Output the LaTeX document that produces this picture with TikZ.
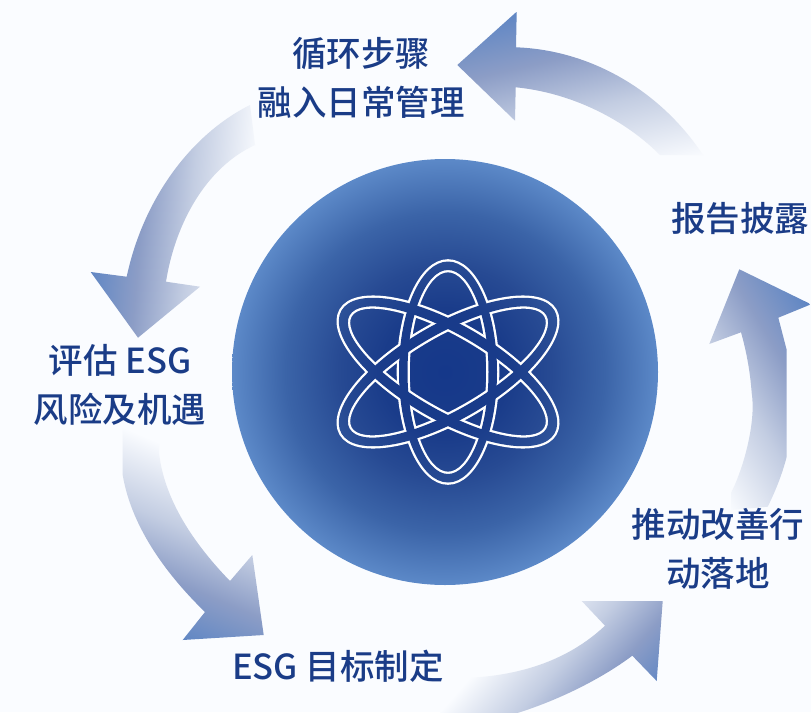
\documentclass[tikz,border=0pt]{standalone}
\usepackage{fontspec}
\setmainfont{Noto Sans CJK SC Medium}
\definecolor{pagebg}{HTML}{FAFCFF}
\definecolor{labelblue}{HTML}{1A3C87}
\definecolor{arrA}{HTML}{C3CDE2}
\definecolor{arrB}{HTML}{8C9DC6}
\definecolor{arrC}{HTML}{5F86C4}
\definecolor{discA}{HTML}{15388A}
\definecolor{discB}{HTML}{1A3C8A}
\definecolor{discC}{HTML}{274A93}
\definecolor{discD}{HTML}{3B64A8}
\definecolor{discE}{HTML}{5C89C8}
\pgfdeclarehorizontalshading{arrowgrad}{100bp}{color(0bp)=(pagebg); color(25bp)=(pagebg); color(45bp)=(arrA); color(60bp)=(arrB); color(75bp)=(arrC); color(100bp)=(arrC)}
\pgfdeclareradialshading{discgrad}{\pgfpoint{0bp}{0bp}}{color(0bp)=(discA); color(7.5bp)=(discB); color(12.5bp)=(discC); color(18.75bp)=(discD); color(25bp)=(discE); color(50bp)=(discE)}
\tikzset{
  lbl/.style={text=labelblue,font=\fontsize{34.5}{49}\selectfont,align=center,inner sep=0pt},
  atomline/.style={draw=white,line width=4.6pt},
}
% #1 path, #2 start of gradient, #3 direction (screen degrees), #4 length
\newcommand{\gradarrow}[4]{%
  \begin{scope}
    \clip #1;
    \begin{scope}[transform canvas={shift={#2},rotate=#3}]
      \shade[shading=arrowgrad] (0,-900) rectangle (#4,900);
    \end{scope}
  \end{scope}}
\newcommand{\discfill}{\shade[shading=discgrad] (445,372) circle (213);}
\begin{document}
\begin{tikzpicture}[x=1pt,y=-1pt]
\useasboundingbox (0,0) rectangle (811,712);
\clip (0,0) rectangle (811,712);
\fill[pagebg] (0,0) rectangle (811,712);

% arrows
\gradarrow{(457.3,65) -- (516.7,11.7) -- (516,47.3) .. controls (590,50) and (660,90) .. (703,155) -- (660,155) .. controls (620,115) and (565,92) .. (515.7,87.3) -- (515,120.7) -- cycle}{(620,176)}{103}{183}
\gradarrow{(138,337.7) -- (90.7,272) -- (126.7,276.7) .. controls (143,200) and (190,135) .. (250,105) -- (255,145) .. controls (205,168) and (175,225) .. (166,281.7) -- (200,286.7) -- cycle}{(262,130)}{175}{160}
\gradarrow{(263.7,635) -- (252.3,555) -- (230,581) .. controls (200,550) and (165,505) .. (159,453) -- (159,425) -- (122.7,425) -- (122.7,475) .. controls (132,530) and (170,578) .. (205,612) -- (182.7,640) -- cycle}{(130,430)}{247}{174}
\gradarrow{(662.7,601) -- (581.7,601) -- (605,625.7) .. controls (560,668) and (500,680) .. (440,678) -- (440,725) -- (500,718) .. controls (550,705) and (600,680) .. (632.3,655.7) -- (656.7,681) -- cycle}{(450,700)}{319}{150}
\gradarrow{(739.3,269.3) -- (811,304.3) -- (778.3,317.7) -- (786.7,350) -- (786.7,456.7) .. controls (782,475) and (775,492) .. (767.7,506.7) -- (731,510) -- (731,493) .. controls (745,465) and (756,420) .. (751.7,393) .. controls (750,370) and (746,350) .. (741,332.3) -- (709.3,344) -- cycle}{(735,520)}{31}{175}

% disc
\discfill
% atom: outlines first, then the bands refilled with the disc colours
\begin{scope}[atomline]
  \draw (448,372) ellipse [x radius=49,y radius=110.5];
  \draw (448,372) ellipse [x radius=40.5,y radius=102];
  \foreach \ang in {60,-60}{
    \draw[rotate around={\ang:(448,372)}] (448,372) ellipse [x radius=48,y radius=123];
    \draw[rotate around={\ang:(448,372)}] (448,372) ellipse [x radius=38,y radius=113.5];
  }
\end{scope}
\begin{scope}[even odd rule]
  \clip (448,372) ellipse [x radius=49,y radius=110.5] (448,372) ellipse [x radius=40.5,y radius=102];
  \discfill
\end{scope}
\foreach \ang in {60,-60}{
  \begin{scope}[even odd rule]
    \clip[rotate around={\ang:(448,372)}] (448,372) ellipse [x radius=48,y radius=123] (448,372) ellipse [x radius=38,y radius=113.5];
    \discfill
  \end{scope}
}

% labels
\node[lbl] (n1) at (361,78) {循环步骤\\融入日常管理};
\node[lbl] (n2) at (740,219) {报告披露};
\node[lbl] (n3) at (718,549) {推动改善行\\动落地};
\node[lbl] (n4) at (338,666) {ESG 目标制定};
\node[lbl] (n5) at (120,385) {评估 ESG\\风险及机遇};
\end{tikzpicture}
\end{document}
